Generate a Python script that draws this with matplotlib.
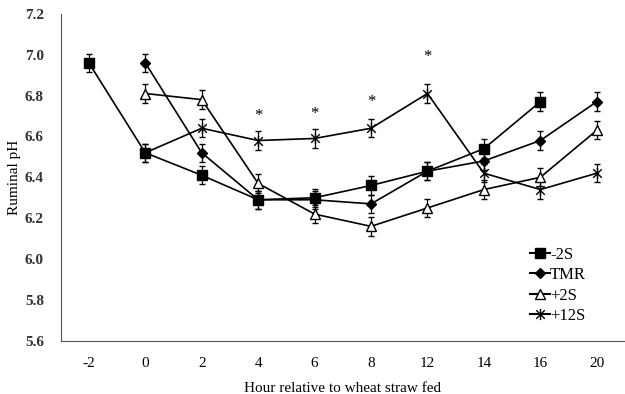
import matplotlib.pyplot as plt
import numpy as np
from matplotlib.path import Path
from matplotlib.lines import Line2D

plt.rcParams['font.family'] = ['Liberation Serif', 'DejaVu Serif']

hours = ['-2', '0', '2', '4', '6', '8', '12', '14', '16', '20']

# ruminal pH per treatment (None = not sampled)
ph_m2s = [6.96, 6.52, 6.41, 6.29, 6.30, 6.36, 6.43, 6.54, 6.77, None]
ph_tmr = [None, 6.96, 6.52, 6.29, 6.29, 6.27, 6.43, 6.48, 6.58, 6.77]
ph_p2s = [None, 6.81, 6.78, 6.37, 6.22, 6.16, 6.25, 6.34, 6.40, 6.63]
ph_p12s = [None, 6.52, 6.64, 6.58, 6.59, 6.64, 6.81, 6.42, 6.34, 6.42]
sem = 0.045

# significance marks
star_hours = ['4', '6', '8', '12']
star_y = [6.70, 6.71, 6.77, 6.99]

# Excel-style star marker (x with vertical bar)
star_marker = Path([(-1, -1), (1, 1), (-1, 1), (1, -1), (0, -1.3), (0, 1.3)],
                   [Path.MOVETO, Path.LINETO, Path.MOVETO, Path.LINETO, Path.MOVETO, Path.LINETO])

fig, ax = plt.subplots(figsize=(6.25, 3.94), dpi=100)
fig.subplots_adjust(left=0.097, right=1.0, top=0.965, bottom=0.135)

x = np.arange(len(hours))
handles = []

def draw(vals, marker, label, mfc='black', ms=6):
    xs = [i for i, v in enumerate(vals) if v is not None]
    ys = [v for v in vals if v is not None]
    ax.errorbar(xs, ys, yerr=sem, color='black', lw=1.2, elinewidth=0.9, capsize=2.5,
                marker=marker, ms=ms, mfc=mfc, mec='black', mew=1.0)
    handles.append(Line2D([], [], color='black', lw=1.5, marker=marker, ms=ms,
                          mfc=mfc, mec='black', mew=1.0, label=label))

draw(ph_m2s, 's', '-2S', ms=7)
draw(ph_tmr, 'D', 'TMR', ms=5)
draw(ph_p2s, '^', '+2S', mfc='white', ms=7)
draw(ph_p12s, star_marker, '+12S', mfc='none', ms=8)

for h, y in zip(star_hours, star_y):
    ax.text(hours.index(h), y, '*', ha='center', va='center', fontsize=12)

ax.set_xlim(-0.5, 9.5)
ax.set_ylim(5.6, 7.2)
ax.set_xticks(x)
ax.set_xticklabels(hours)
ax.set_yticks(np.arange(5.6, 7.21, 0.2))
ax.set_yticklabels(['%.1f' % v for v in np.arange(5.6, 7.21, 0.2)])
ax.tick_params(length=0, labelsize=11, pad=12)
for lab in ax.get_yticklabels():
    lab.set_fontweight('bold')
    lab.set_color('#333333')
ax.spines['top'].set_visible(False)
ax.spines['right'].set_visible(False)
ax.spines['left'].set_color('#555555')
ax.spines['bottom'].set_color('#555555')

ax.set_xlabel('Hour relative to wheat straw fed', fontsize=11, labelpad=8)
ax.set_ylabel('Ruminal pH', fontsize=11, labelpad=3)

ax.legend(handles=handles, loc='upper left', bbox_to_anchor=(0.808, 0.328), frameon=False,
          fontsize=12, handlelength=1.2, handletextpad=0.0, labelspacing=0.26,
          borderpad=0.3)

fig.savefig('out.png')
